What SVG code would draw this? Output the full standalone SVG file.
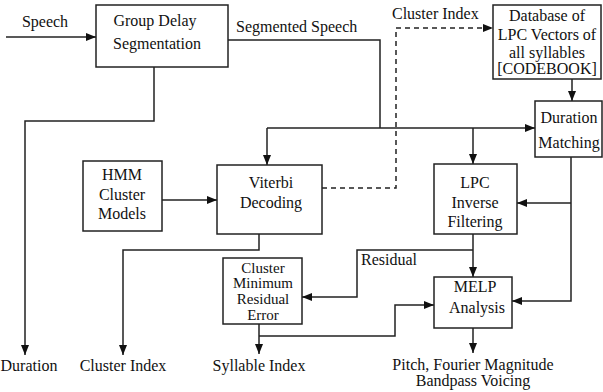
<svg xmlns="http://www.w3.org/2000/svg" width="603" height="392" viewBox="0 0 603 392">
  <defs>
    <marker id="arrow" viewBox="0 0 10 8" refX="10" refY="4" markerWidth="10" markerHeight="8" markerUnits="userSpaceOnUse" orient="auto">
      <path d="M0,0 L10,4 L0,8 Z" fill="#111"/>
    </marker>
  </defs>
  <style>
    text { font-family: "Liberation Serif", "Times New Roman", serif; font-size: 16px; fill: #111; }
    .c { text-anchor: middle; }
    .tight { font-size: 15px; }
    .box { fill: #fff; stroke: #222; stroke-width: 1.5; }
    .wire { fill: none; stroke: #222; stroke-width: 1.5; }
    .dash { stroke-dasharray: 5 4; }
    .arr { marker-end: url(#arrow); }
  </style>
  <rect width="603" height="392" fill="#fff"/>

  <g id="connectors">
    <!-- speech input -->
    <path class="wire arr" d="M6,37 H96"/>
    <!-- duration output -->
    <path class="wire arr" d="M154,67 V121 H25 V355"/>
    <!-- segmented speech bus -->
    <path class="wire" d="M228,40 H380 V128"/>
    <path class="wire arr" d="M267,128 H535"/>
    <path class="wire arr" d="M267,128 V165"/>
    <path class="wire arr" d="M473,128 V164"/>
    <!-- HMM models to Viterbi -->
    <path class="wire arr" d="M162,200 H217"/>
    <!-- cluster index to codebook (dashed) -->
    <path class="wire dash arr" d="M322,188 H396 V28 H493"/>
    <!-- codebook to duration matching -->
    <path class="wire arr" d="M572,79 V101"/>
    <!-- duration matching outputs -->
    <path class="wire arr" d="M571,157 V301 H512"/>
    <path class="wire arr" d="M571,203 H517"/>
    <!-- Viterbi cluster index output -->
    <path class="wire arr" d="M259,234 V250 H123 V355"/>
    <!-- LPC inverse filtering residual -->
    <path class="wire arr" d="M473,234 V277"/>
    <path class="wire arr" d="M473,250 H357 V297 H302"/>
    <!-- syllable index -->
    <path class="wire arr" d="M259,324 V354"/>
    <path class="wire arr" d="M259,336 H395 V305 H434"/>
    <!-- MELP output -->
    <path class="wire arr" d="M473,328 V353"/>
  </g>

  <g id="group-delay">
    <rect class="box" x="96" y="5" width="132" height="62"/>
    <text class="c" x="155" y="26">Group Delay</text>
    <text class="c" x="157" y="49">Segmentation</text>
  </g>

  <g id="codebook">
    <rect class="box" x="493" y="5" width="108" height="74"/>
    <text class="c" x="547" y="21">Database of</text>
    <text class="c" x="547" y="40">LPC Vectors of</text>
    <text class="c" x="547" y="58">all syllables</text>
    <text class="c" x="547" y="74">[CODEBOOK]</text>
  </g>

  <g id="duration-matching">
    <rect class="box" x="535" y="101" width="67" height="56"/>
    <text class="c" x="569" y="123">Duration</text>
    <text class="c" x="569" y="148">Matching</text>
  </g>

  <g id="hmm">
    <rect class="box" x="83" y="161" width="79" height="70"/>
    <text class="c" x="122" y="180">HMM</text>
    <text class="c" x="122" y="200">Cluster</text>
    <text class="c" x="122" y="219">Models</text>
  </g>

  <g id="viterbi">
    <rect class="box" x="217" y="165" width="105" height="69"/>
    <text class="c" x="271" y="188">Viterbi</text>
    <text class="c" x="271" y="208">Decoding</text>
  </g>

  <g id="lpc-inverse">
    <rect class="box" x="434" y="164" width="83" height="70"/>
    <text class="c" x="475" y="188">LPC</text>
    <text class="c" x="475" y="208">Inverse</text>
    <text class="c" x="475" y="227">Filtering</text>
  </g>

  <g id="cluster-min">
    <rect class="box" x="223" y="258" width="79" height="66"/>
    <text class="c tight" x="263" y="273">Cluster</text>
    <text class="c tight" x="263" y="288">Minimum</text>
    <text class="c tight" x="263" y="304">Residual</text>
    <text class="c tight" x="263" y="320">Error</text>
  </g>

  <g id="melp">
    <rect class="box" x="434" y="277" width="78" height="51"/>
    <text class="c" x="475" y="292">MELP</text>
    <text class="c" x="477" y="313">Analysis</text>
  </g>

  <g id="labels">
    <text class="c" x="45" y="27">Speech</text>
    <text x="236" y="32">Segmented Speech</text>
    <text x="392" y="19">Cluster Index</text>
    <text x="361" y="265">Residual</text>
    <text class="c" x="29" y="371">Duration</text>
    <text class="c" x="123" y="371">Cluster Index</text>
    <text class="c" x="259" y="371">Syllable Index</text>
    <text class="c" x="473" y="370">Pitch, Fourier Magnitude</text>
    <text class="c" x="473" y="386">Bandpass Voicing</text>
  </g>
</svg>
